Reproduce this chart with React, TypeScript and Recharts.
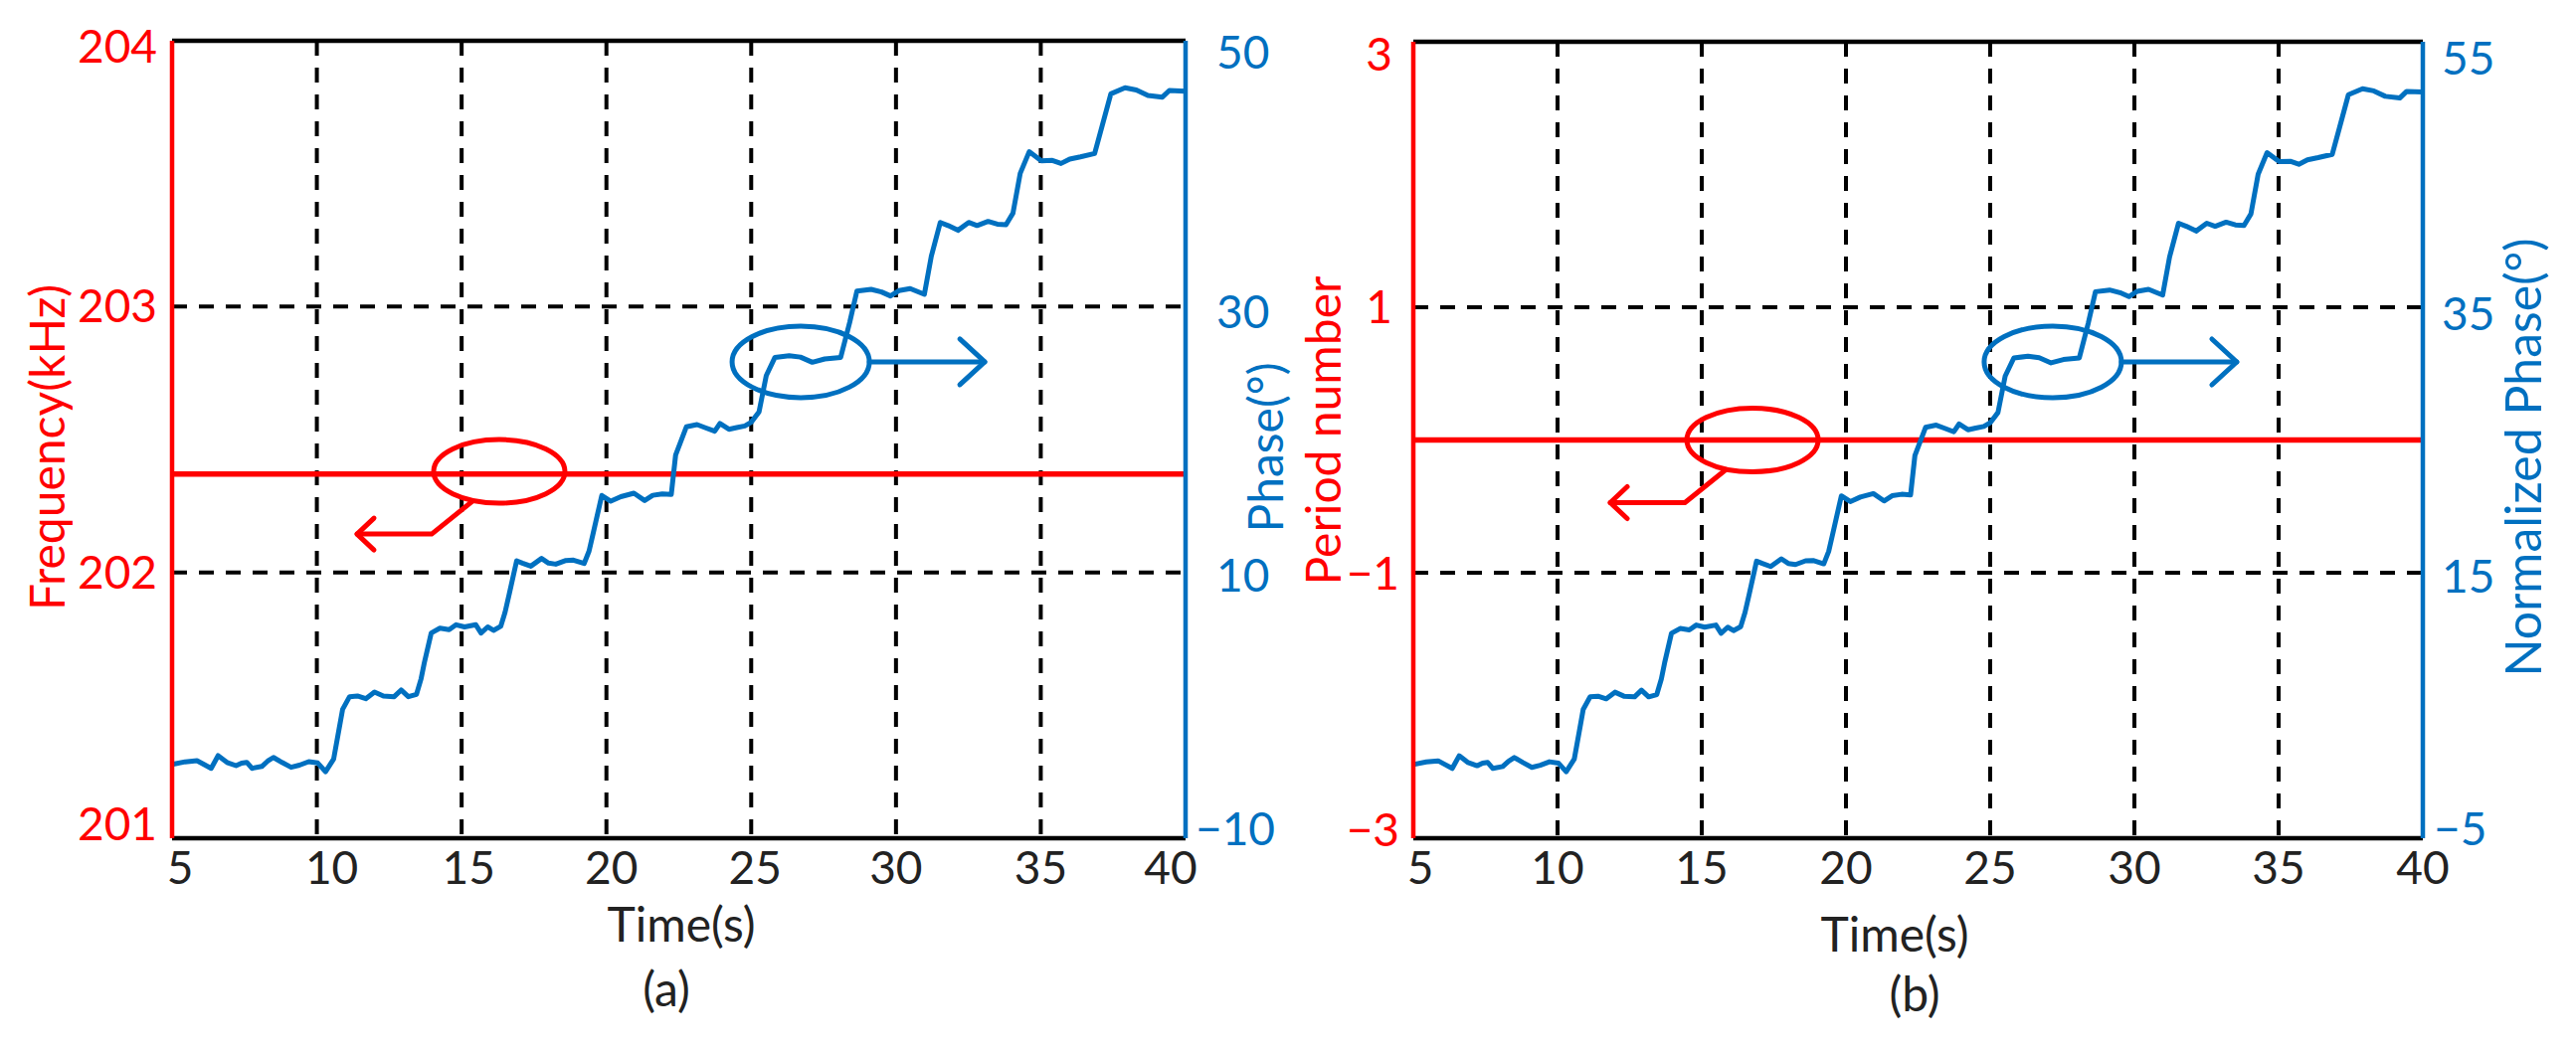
import React from "react";
import { LineChart, Line, XAxis, YAxis, CartesianGrid, ReferenceLine, ReferenceDot } from "recharts";

const RED = "#ff0000";
const BLUE = "#0070c0";
const INK = "#222222";
const FONT = "Lato, 'Open Sans', sans-serif";

// axis ticks
const timeTicks = [5, 10, 15, 20, 25, 30, 35, 40];
const freqTicks = [201, 202, 203, 204];
const phaseTicks = [-10, 10, 30, 50];
const periodTicks = [-3, -1, 1, 3];
const normPhaseTicks = [-5, 15, 35, 55];

// constant red traces
const freqLine = [{ t: 5, v: 202.37 }, { t: 40, v: 202.37 }];
const periodLine = [{ t: 5, v: 0 }, { t: 40, v: 0 }];

// blue step trace, time in s
const time = [
  5.0, 5.45, 5.86, 6.1, 6.35, 6.59, 6.9, 7.21, 7.4, 7.58, 7.76, 8.1, 8.3, 8.5, 8.8, 9.11, 9.4, 9.72,
  10.03, 10.3, 10.58, 10.75, 10.89, 11.13, 11.4, 11.69, 11.99, 12.3, 12.67, 12.91, 13.16, 13.44, 13.6,
  13.71, 13.95, 14.25, 14.57, 14.81, 15.1, 15.49, 15.67, 15.9, 16.1, 16.35, 16.5, 16.65, 16.9, 17.1,
  17.39, 17.76, 18.0, 18.25, 18.6, 18.86, 19.23, 19.4, 19.54, 19.84, 20.15, 20.5, 20.95, 21.32, 21.6,
  21.93, 22.24, 22.39, 22.76, 23.13, 23.4, 23.74, 23.92, 24.23, 24.5, 24.78, 25.0, 25.27, 25.52, 25.82,
  26.31, 26.7, 27.11, 27.54, 28.09, 28.4, 28.65, 29.14, 29.5, 29.81, 30.1, 30.49, 30.98, 31.22, 31.53,
  31.8, 32.14, 32.51, 32.8, 33.18, 33.5, 33.8, 34.04, 34.29, 34.6, 35.02, 35.4, 35.7, 36.0, 36.37,
  36.86, 37.11, 37.42, 37.91, 38.3, 38.7, 39.2, 39.44, 40.0,
];

// phase in degrees, panel (a)
const phase = [
  -4.45, -4.25, -4.17, -4.45, -4.74, -3.79, -4.3, -4.54, -4.35, -4.29, -4.74, -4.6, -4.2, -3.92, -4.3,
  -4.66, -4.5, -4.24, -4.34, -4.99, -4.04, -2.0, -0.3, 0.65, 0.7, 0.5, 1.0, 0.7, 0.65, 1.15, 0.65, 0.82,
  2.0, 3.19, 5.44, 5.8, 5.69, 6.06, 5.9, 6.06, 5.44, 5.9, 5.64, 5.94, 7.0, 8.43, 10.87, 10.7, 10.47,
  11.05, 10.7, 10.62, 10.9, 10.92, 10.67, 11.6, 12.92, 15.79, 15.36, 15.7, 15.96, 15.41, 15.8, 15.91,
  15.86, 18.83, 20.95, 21.12, 20.9, 20.62, 21.2, 20.77, 20.9, 21.02, 21.3, 22.07, 24.81, 26.18, 26.31,
  26.2, 25.81, 26.06, 26.18, 28.8, 31.17, 31.3, 31.1, 30.8, 31.2, 31.35, 30.92, 33.79, 36.33, 36.1,
  35.74, 36.33, 36.1, 36.41, 36.2, 36.16, 37.03, 40.02, 41.65, 40.97, 41.0, 40.77, 41.1, 41.27, 41.52,
  43.52, 46.01, 46.46, 46.3, 45.89, 45.76, 46.26, 46.21,
];

// normalized phase in degrees, panel (b)
const normPhase = [
  0.55, 0.75, 0.83, 0.55, 0.26, 1.21, 0.7, 0.46, 0.65, 0.71, 0.26, 0.4, 0.8, 1.08, 0.7, 0.34, 0.5,
  0.76, 0.66, 0.01, 0.96, 3.0, 4.7, 5.65, 5.7, 5.5, 6.0, 5.7, 5.65, 6.15, 5.65, 5.82, 7.0, 8.19, 10.44,
  10.8, 10.69, 11.06, 10.9, 11.06, 10.44, 10.9, 10.64, 10.94, 12.0, 13.43, 15.87, 15.7, 15.47, 16.05,
  15.7, 15.62, 15.9, 15.92, 15.67, 16.6, 17.92, 20.79, 20.36, 20.7, 20.96, 20.41, 20.8, 20.91, 20.86,
  23.83, 25.95, 26.12, 25.9, 25.62, 26.2, 25.77, 25.9, 26.02, 26.3, 27.07, 29.81, 31.18, 31.31, 31.2,
  30.81, 31.06, 31.18, 33.8, 36.17, 36.3, 36.1, 35.8, 36.2, 36.35, 35.92, 38.79, 41.33, 41.1, 40.74,
  41.33, 41.1, 41.41, 41.2, 41.16, 42.03, 45.02, 46.65, 45.97, 46.0, 45.77, 46.1, 46.27, 46.52, 48.52,
  51.01, 51.46, 51.3, 50.89, 50.76, 51.26, 51.21,
];

const phaseData = time.map((t, i) => ({ t, v: phase[i] }));
const normPhaseData = time.map((t, i) => ({ t, v: normPhase[i] }));

const fmt = (v: number) => (v < 0 ? "\u2212" + Math.abs(v) : String(v));

function makeYTick(color: string, anchor: "start" | "end", ticks: number[], dxPos: number, dxNeg: number, dys: number[]) {
  return (p: any) => {
    const v = p.payload.value;
    const i = ticks.indexOf(v);
    return (
      <text x={p.x + (v < 0 ? dxNeg : dxPos)} y={p.y + 16.5 + (dys[i] ?? 0)} textAnchor={anchor}
        fill={color} fontSize={46} fontFamily={FONT}>
        {fmt(v)}
      </text>
    );
  };
}

function makeXTick(dxs: number[]) {
  return (p: any) => {
    const v = p.payload.value;
    const i = timeTicks.indexOf(v);
    return (
      <text x={p.x + (dxs[i] ?? 0)} y={p.y + 46} textAnchor="middle" fill={INK} fontSize={46} fontFamily={FONT}>
        {fmt(v)}
      </text>
    );
  };
}

// ellipse with a bent arrow pointing left (to the left axis)
const RedNote = (p: any) => (
  <g fill="none" stroke={RED} strokeWidth={5} strokeLinecap="round" strokeLinejoin="round">
    <ellipse cx={p.cx} cy={p.cy} rx={66} ry={32} />
    <polyline points={`${p.cx - 27},${p.cy + 30} ${p.cx - 68},${p.cy + 63} ${p.cx - 143},${p.cy + 63}`} />
    <polyline points={`${p.cx - 126},${p.cy + 47} ${p.cx - 143},${p.cy + 63} ${p.cx - 126},${p.cy + 79}`} />
  </g>
);

// ellipse with a straight arrow pointing right (to the right axis)
const BlueNote = (p: any) => (
  <g fill="none" stroke={BLUE} strokeWidth={5} strokeLinecap="round" strokeLinejoin="round">
    <ellipse cx={p.cx} cy={p.cy} rx={69} ry={36} />
    <polyline points={`${p.cx + 69},${p.cy} ${p.cx + 185},${p.cy}`} />
    <polyline points={`${p.cx + 160},${p.cy - 23} ${p.cx + 185},${p.cy} ${p.cx + 160},${p.cy + 23}`} />
  </g>
);

const gridProps = { stroke: "#000", strokeWidth: 4, strokeDasharray: "15 12" };

export default function App() {
  return (
    <div style={{ position: "absolute", left: 0, top: 0, width: 2590, height: 1059, background: "#fff" }}>
      <div style={{ position: "absolute", left: 0, top: 0 }}>
        <LineChart width={1300} height={1059} margin={{ top: 41, right: 8, left: 0, bottom: 16 }}>
          <CartesianGrid yAxisId="l" {...gridProps} />
          <XAxis dataKey="t" type="number" domain={[5, 40]} ticks={timeTicks} height={200}
            axisLine={{ stroke: "#000", strokeWidth: 4.5 }} tickLine={false} tickSize={0} tickMargin={0}
            tick={makeXTick([8, 15, 7, 5, 4, 0, 0, -15])} />
          <YAxis yAxisId="l" type="number" domain={[201, 204]} ticks={freqTicks} width={173}
            axisLine={{ stroke: RED, strokeWidth: 4.5 }} tickLine={false} tickSize={0} tickMargin={0}
            tick={makeYTick(RED, "end", freqTicks, -15, -15, [-15, 0, -1, 5])} />
          <YAxis yAxisId="r" orientation="right" type="number" domain={[-10, 50]} ticks={phaseTicks} width={100}
            axisLine={{ stroke: BLUE, strokeWidth: 4.5 }} tickLine={false} tickSize={0} tickMargin={0}
            tick={makeYTick(BLUE, "start", phaseTicks, 31, 10, [-10, 3, 5, 11])} />
          <ReferenceLine yAxisId="l" y={204} stroke="#000" strokeWidth={4.5} />
          <Line yAxisId="l" data={freqLine} dataKey="v" stroke={RED} strokeWidth={5.5} dot={false} isAnimationActive={false} />
          <Line yAxisId="r" data={phaseData} dataKey="v" stroke={BLUE} strokeWidth={5} dot={false}
            strokeLinejoin="round" isAnimationActive={false} />
          <ReferenceDot yAxisId="l" x={16.3} y={202.38} r={0} shape={RedNote} />
          <ReferenceDot yAxisId="r" x={26.71} y={25.84} r={0} shape={BlueNote} />
        </LineChart>
      </div>
      <div style={{ position: "absolute", left: 1300, top: 0 }}>
        <LineChart width={1290} height={1059} margin={{ top: 42, right: 14, left: 0, bottom: 16 }}>
          <CartesianGrid yAxisId="l" {...gridProps} />
          <XAxis dataKey="t" type="number" domain={[5, 40]} ticks={timeTicks} height={200}
            axisLine={{ stroke: "#000", strokeWidth: 4.5 }} tickLine={false} tickSize={0} tickMargin={0}
            tick={makeXTick([7, 0, 0, 0, 0, 0, 0, 0])} />
          <YAxis yAxisId="l" type="number" domain={[-3, 3]} ticks={periodTicks} width={121}
            axisLine={{ stroke: RED, strokeWidth: 4.5 }} tickLine={false} tickSize={0} tickMargin={0}
            tick={makeYTick(RED, "end", periodTicks, -21, -14, [-9, 0, -1, 12])} />
          <YAxis yAxisId="r" orientation="right" type="number" domain={[-5, 55]} ticks={normPhaseTicks} width={140}
            axisLine={{ stroke: BLUE, strokeWidth: 4.5 }} tickLine={false} tickSize={0} tickMargin={0}
            tick={makeYTick(BLUE, "start", normPhaseTicks, 19, 11, [-10, 3, 6, 16])} />
          <ReferenceLine yAxisId="l" y={3} stroke="#000" strokeWidth={4.5} />
          <Line yAxisId="l" data={periodLine} dataKey="v" stroke={RED} strokeWidth={5.5} dot={false} isAnimationActive={false} />
          <Line yAxisId="r" data={normPhaseData} dataKey="v" stroke={BLUE} strokeWidth={5} dot={false}
            strokeLinejoin="round" isAnimationActive={false} />
          <ReferenceDot yAxisId="l" x={16.76} y={0} r={0} shape={RedNote} />
          <ReferenceDot yAxisId="r" x={27.17} y={30.88} r={0} shape={BlueNote} />
        </LineChart>
      </div>
      <svg width={2590} height={1059} style={{ position: "absolute", left: 0, top: 0, pointerEvents: "none" }}
        fontFamily={FONT} fontSize={48}>
        <text transform="translate(65,450) rotate(-90)" textAnchor="middle" fill={RED}>Frequency(kHz)</text>
        <text transform="translate(1290,450) rotate(-90)" textAnchor="middle" fill={BLUE}>Phase(°)</text>
        <text transform="translate(1348,433) rotate(-90)" textAnchor="middle" fill={RED}>Period number</text>
        <text transform="translate(2555,460) rotate(-90)" textAnchor="middle" fill={BLUE} fontSize={50}>Normalized Phase(°)</text>
        <text x={685} y={947} textAnchor="middle" fill={INK}>Time(s)</text>
        <text x={670} y={1012} textAnchor="middle" fill={INK}>(a)</text>
        <text x={1905} y={957} textAnchor="middle" fill={INK}>Time(s)</text>
        <text x={1925} y={1017} textAnchor="middle" fill={INK}>(b)</text>
      </svg>
    </div>
  );
}
